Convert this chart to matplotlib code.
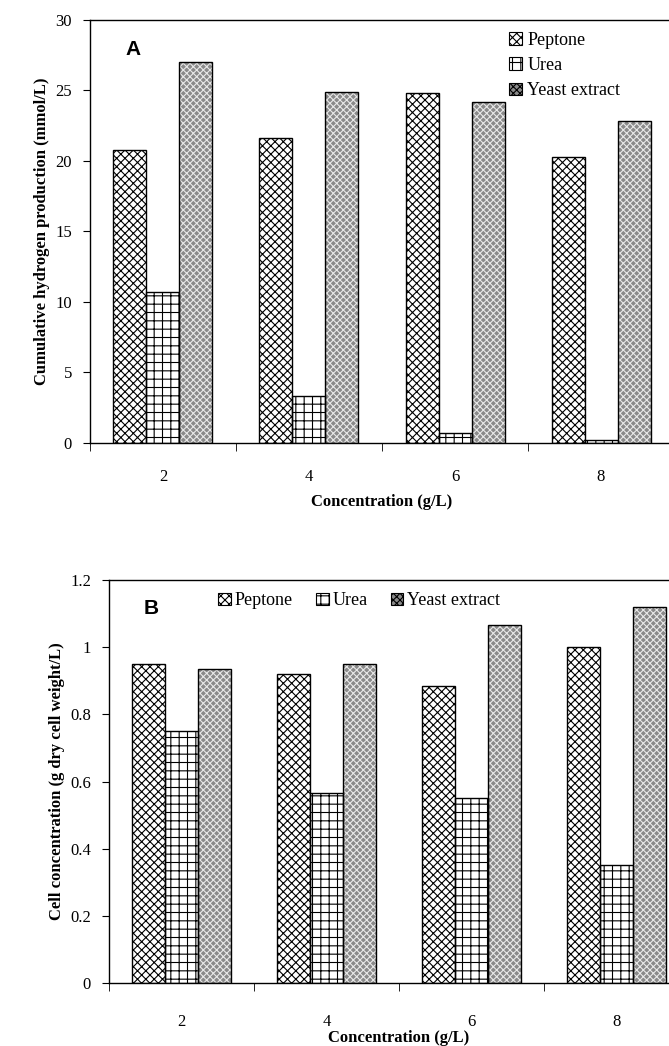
import matplotlib.pyplot as plt
import numpy as np

# Data
conc = ['2', '4', '6', '8']
series = ['Peptone', 'Urea', 'Yeast extract']

h2_peptone = [20.8, 21.6, 24.8, 20.3]
h2_urea = [10.7, 3.3, 0.7, 0.2]
h2_yeast = [27.0, 24.9, 24.2, 22.8]

cell_peptone = [0.95, 0.92, 0.885, 1.0]
cell_urea = [0.75, 0.565, 0.55, 0.35]
cell_yeast = [0.935, 0.95, 1.065, 1.12]

plt.rcParams['font.family'] = ['Liberation Serif', 'DejaVu Serif']
plt.rcParams['hatch.linewidth'] = 0.8

fig = plt.figure(figsize=(6.69, 10.46), dpi=100)
axA = fig.add_axes([0.1345, 0.5765, 0.873, 0.4044])
axB = fig.add_axes([0.163, 0.0602, 0.867, 0.3853])

w = 0.226
x = np.arange(len(conc)) + 0.5


def draw_bars(ax, vals, offset, style):
    face, hatch, hcol = style
    ax.bar(x + offset, vals, w, color=face, edgecolor=hcol, hatch=hatch, linewidth=0, zorder=2)
    ax.bar(x + offset, vals, w, fill=False, edgecolor='black', linewidth=1.0, zorder=3)


styles = [('white', 'xxxx', 'black'),
          ('white', '++', 'black'),
          ('#8a8a8a', 'xxxxx', '#e8e8e8')]


def handles():
    hs = []
    for face, hatch, hcol in styles:
        hs.append(plt.Rectangle((0, 0), 1, 1, facecolor=face, edgecolor='black', hatch=hatch, linewidth=0.8))
    return hs


def style_axes(ax, ymax, step, fmt, ylabel, pad):
    ax.set_xlim(0, 4)
    ax.set_ylim(0, ymax)
    ax.set_yticks(np.arange(0, ymax + step / 2, step))
    ax.set_yticklabels([fmt(v) for v in np.arange(0, ymax + step / 2, step)])
    ax.set_xticks(x)
    ax.set_xticklabels(conc)
    ax.set_xticks([0, 1, 2, 3, 4], minor=True)
    ax.tick_params(axis='x', which='major', length=0, pad=pad, labelsize=12)
    ax.tick_params(axis='x', which='minor', length=6, direction='out')
    ax.tick_params(axis='y', length=5, direction='out', labelsize=12, pad=8)
    ax.set_ylabel(ylabel, fontsize=12, fontweight='bold')
    for s in ax.spines.values():
        s.set_linewidth(1.0)


for vals, off, st in zip([h2_peptone, h2_urea, h2_yeast], [-w, 0, w], styles):
    draw_bars(axA, vals, off, st)
style_axes(axA, 30, 5, lambda v: f'{v:g}', 'Cumulative hydrogen production (mmol/L)', 19)
axA.set_xlabel('Concentration (g/L)', fontsize=12, fontweight='bold', labelpad=6)
axA.text(0.06, 0.93, 'A', transform=axA.transAxes, fontsize=15, fontweight='bold',
         family='Liberation Sans', va='center')
axA.legend(handles(), series, loc='upper left', bbox_to_anchor=(0.69, 1.01), frameon=False,
           fontsize=13, handlelength=0.7, handleheight=0.7, handletextpad=0.3, labelspacing=0.45)

for vals, off, st in zip([cell_peptone, cell_urea, cell_yeast], [-w, 0, w], styles):
    draw_bars(axB, vals, off, st)
style_axes(axB, 1.2, 0.2, lambda v: f'{v:.1f}'.rstrip('0').rstrip('.') if v else '0',
           'Cell concentration (g dry cell weight/L)', 22)
axB.set_xlabel('Concentration (g/L)', fontsize=12, fontweight='bold', labelpad=0)
axB.text(0.06, 0.93, 'B', transform=axB.transAxes, fontsize=15, fontweight='bold',
         family='Liberation Sans', va='center')
axB.legend(handles(), series, loc='upper left', bbox_to_anchor=(0.16, 1.01), frameon=False, ncol=3,
           fontsize=13, handlelength=0.7, handleheight=0.7, handletextpad=0.2, columnspacing=1.3)

fig.savefig('out.png', dpi=100)
